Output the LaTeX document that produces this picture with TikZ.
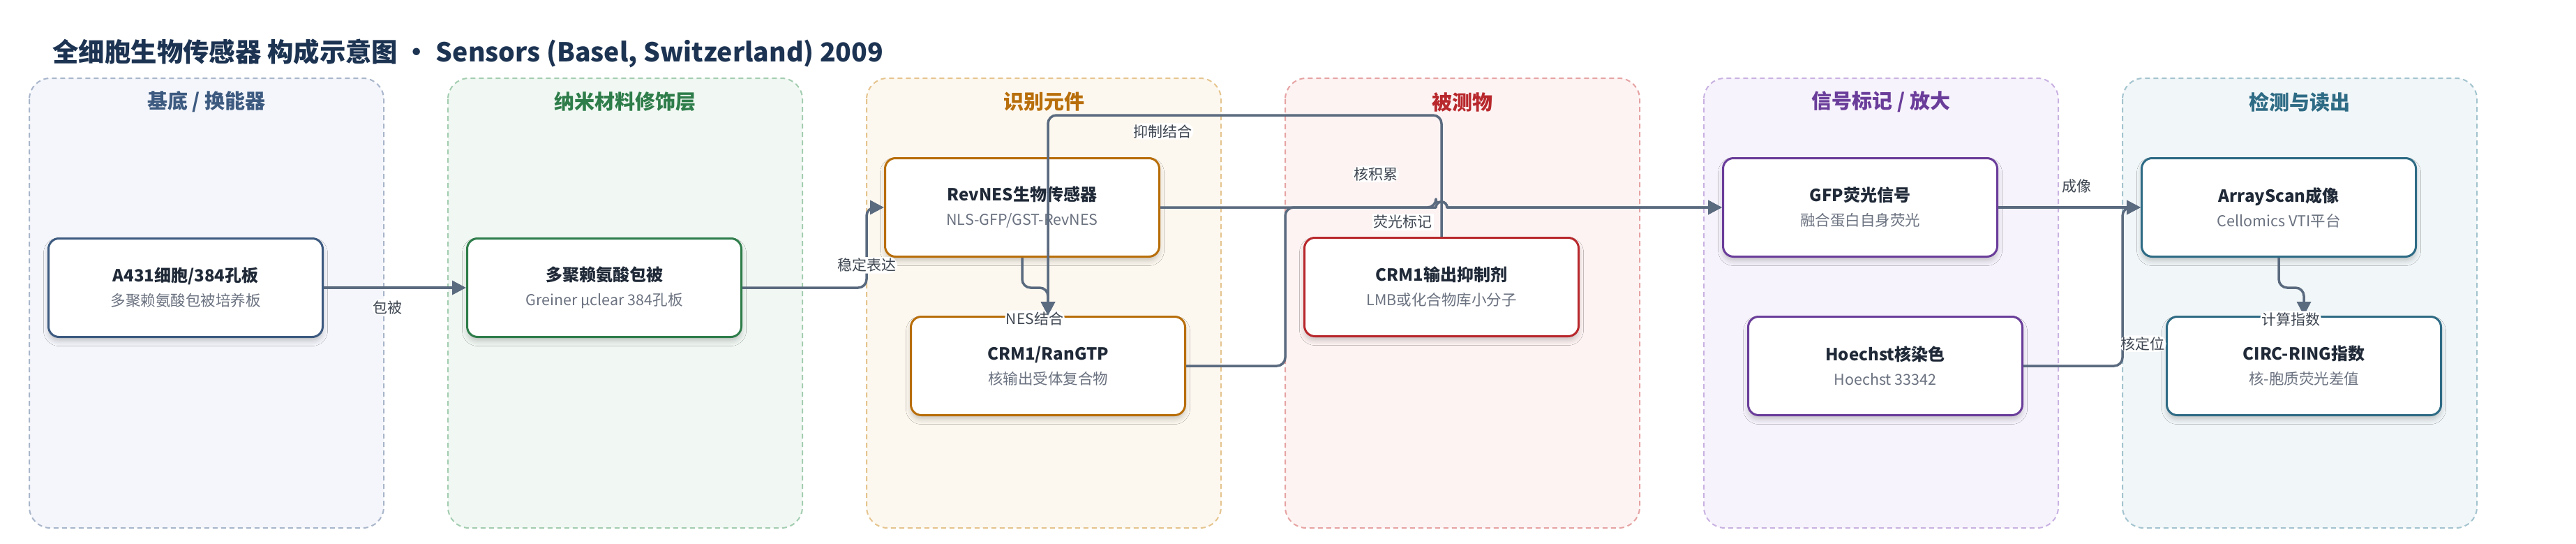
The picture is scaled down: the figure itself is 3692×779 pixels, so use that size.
\documentclass[tikz,border=0pt]{standalone}
\usepackage{fontspec}
\setmainfont{Noto Sans CJK SC}
\usetikzlibrary{arrows.meta,shadows.blur}

\definecolor{ttl}{HTML}{1C3352}
\definecolor{txt}{HTML}{1F2937}
\definecolor{sub}{HTML}{6B7280}
\definecolor{edg}{HTML}{5A6A7F}
\definecolor{lbltxt}{HTML}{3F4752}
\definecolor{blueD}{HTML}{3D5A80}\definecolor{blueL}{HTML}{F4F6FB}\definecolor{blueB}{HTML}{A9B6CB}
\definecolor{greenD}{HTML}{2E7D4A}\definecolor{greenL}{HTML}{F1F8F3}\definecolor{greenB}{HTML}{A3CDB0}
\definecolor{orangeD}{HTML}{B86E0A}\definecolor{orangeL}{HTML}{FDF8EF}\definecolor{orangeB}{HTML}{E5C48E}
\definecolor{redD}{HTML}{B8282C}\definecolor{redL}{HTML}{FDF3F3}\definecolor{redB}{HTML}{E6A3A3}
\definecolor{purpleD}{HTML}{6A3D9A}\definecolor{purpleL}{HTML}{F7F3FC}\definecolor{purpleB}{HTML}{C9B2E2}
\definecolor{tealD}{HTML}{2E6B85}\definecolor{tealL}{HTML}{F1F6F8}\definecolor{tealB}{HTML}{A3C4CF}

\newcommand{\boxhead}[1]{{\fontsize{24}{35}\selectfont\bfseries #1}}
\newcommand{\boxsub}[1]{{\color{sub}#1}}

\begin{document}
\begin{tikzpicture}[x=1pt,y=-1pt,>={Triangle[length=20pt,width=20pt]},node distance=600pt,
	line join=round]
	\tikzstyle{lane}=[rounded corners=30pt,dash pattern=on 7pt off 5pt,line width=2pt]
	\tikzstyle{lanetitle}=[font=\fontsize{29}{34}\selectfont\bfseries]
	\tikzstyle{box}=[rectangle,rounded corners=15pt,fill=white,line width=3pt,minimum width=393pt,
		minimum height=141pt,align=center,text=txt,font=\fontsize{21.5}{35}\selectfont,
		blur shadow={shadow xshift=0pt,shadow yshift=-6pt,shadow blur radius=7pt,shadow opacity=20}]
	\tikzstyle{lbl}=[fill=white,inner sep=2pt,text=lbltxt,font=\fontsize{21}{24}\selectfont]
	\tikzstyle{conn}=[->,draw=edg,line width=3.5pt,rounded corners=12pt]
	
	\useasboundingbox (0,0) rectangle (3692,779);
	
	\node[anchor=west,text=ttl,font=\fontsize{37.4}{44}\selectfont\bfseries] (title) at (72,76)
		{全细胞生物传感器 构成示意图 · Sensors (Basel, Switzerland) 2009};
	
	\foreach \i/\cx/\cc/\t in {1/296/blue/{基底 / 换能器},2/896/green/纳米材料修饰层,3/1496/orange/识别元件,
		4/2096/red/被测物,5/2696/purple/{信号标记 / 放大},6/3296/teal/检测与读出}{
		\draw[lane,draw=\cc B,fill=\cc L] (\cx-254,112) rectangle (\cx+254,756);
		\node[lanetitle,text=\cc D] (lt\i) at (\cx,146) {\t};
	}
	
	\node[box,draw=blueD]   (a431) at (266,412)  {\boxhead{A431细胞/384孔板}\\\boxsub{多聚赖氨酸包被培养板}};
	\node[box,draw=greenD]  (pll) [right of=a431] {\boxhead{多聚赖氨酸包被}\\\boxsub{Greiner μclear 384孔板}};
	\node[box,draw=orangeD] (rev) at (1465,297)  {\boxhead{RevNES生物传感器}\\\boxsub{NLS-GFP/GST-RevNES}};
	\node[box,draw=orangeD] (crm) at (1502,524)  {\boxhead{CRM1/RanGTP}\\\boxsub{核输出受体复合物}};
	\node[box,draw=redD]    (inh) at (2066,411)  {\boxhead{CRM1输出抑制剂}\\\boxsub{LMB或化合物库小分子}};
	\node[box,draw=purpleD] (gfp) at (2666,297)  {\boxhead{GFP荧光信号}\\\boxsub{融合蛋白自身荧光}};
	\node[box,draw=purpleD] (hoe) at (2702,524)  {\boxhead{Hoechst核染色}\\\boxsub{Hoechst 33342}};
	\node[box,draw=tealD]   (arr) [right of=gfp] {\boxhead{ArrayScan成像}\\\boxsub{Cellomics VTI平台}};
	\node[box,draw=tealD]   (circ) [right of=hoe] {\boxhead{CIRC-RING指数}\\\boxsub{核-胞质荧光差值}};
	
	\draw[conn] (a431) -- node[lbl,pos=.45,yshift=-28pt] {包被} (pll);
	\draw[conn] (pll.east) -- ++(178,0) -- node[lbl,pos=.28] {稳定表达} ++(0,-115) -- (rev.west);
	\draw[conn] (rev.south) -- ++(0,43) -| node[lbl,at end,xshift=-19pt,yshift=-4pt] {NES结合} (crm.north);
	\draw[conn] (inh.north) -- ++(0,-174) -| node[lbl,pos=.354,yshift=-23pt] {抑制结合} (crm.north);
	\draw[conn] (crm.east) -- ++(142,0) -- ++(0,-227) -- node[lbl,pos=.6,yshift=48pt] {核积累} (2058,297)
		[sharp corners] arc[start angle=180,end angle=0,radius=8pt] -- (gfp.west);
	\draw[conn,sharp corners] (rev.east) -- node[lbl,pos=.88,yshift=-21pt] {荧光标记} (2058,297)
		arc[start angle=180,end angle=0,radius=8pt] -- (gfp.west);
	\draw[conn] (gfp) -- node[lbl,pos=.55,yshift=30pt] {成像} (arr);
	\draw[conn] (hoe.east) -- ++(142,0) |- node[lbl,pos=.07,xshift=29pt] {核定位} (arr.west);
	\draw[conn] (arr.south) -- ++(0,43) -| node[lbl,at end,xshift=-19pt,yshift=-5pt] {计算指数} (circ.north);
	
\end{tikzpicture}
\end{document}
